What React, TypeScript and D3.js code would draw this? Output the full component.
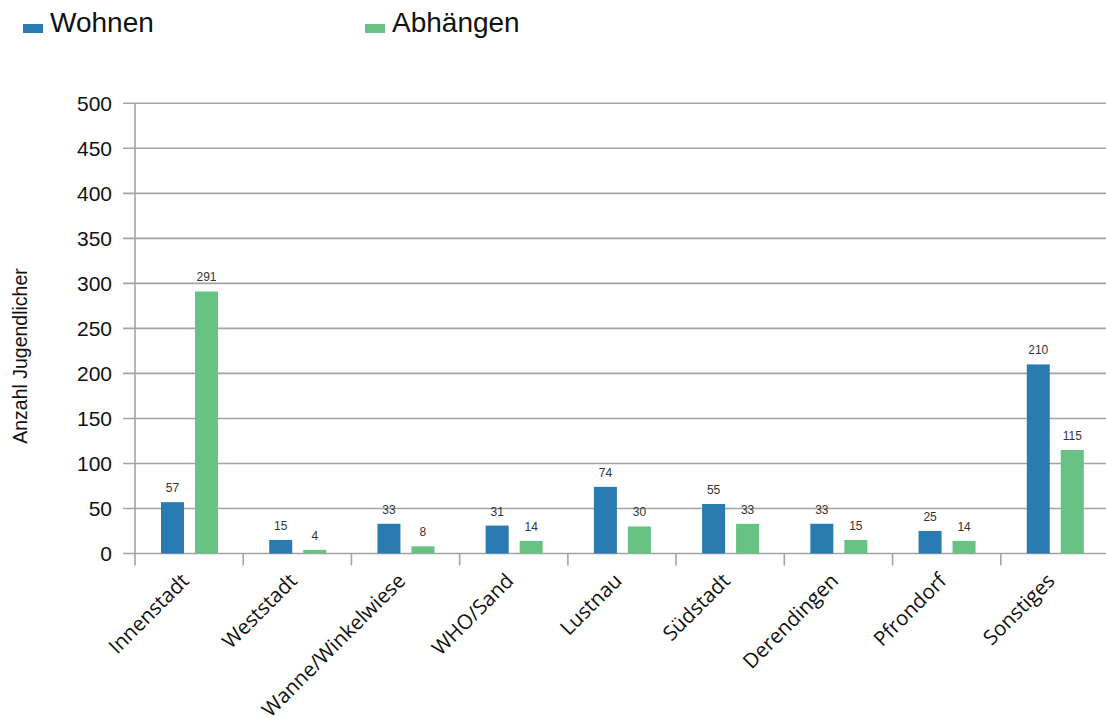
import React from "react";
import * as d3 from "d3";

const categories = ["Innenstadt", "Weststadt", "Wanne/Winkelwiese", "WHO/Sand", "Lustnau", "Südstadt", "Derendingen", "Pfrondorf", "Sonstiges"];
const seriesNames = ["Wohnen", "Abhängen"];
const wohnen = [57, 15, 33, 31, 74, 55, 33, 25, 210];
const abhaengen = [291, 4, 8, 14, 30, 33, 15, 14, 115];
const yTicks = [0, 50, 100, 150, 200, 250, 300, 350, 400, 450, 500];
const colors = ["#2a7bb2", "#67c283"];

export default function App() {
  const W = 1106, H = 717;
  const left = 135, right = 1109, top = 103.3, bottom = 553.5;
  const x = d3.scaleBand<string>().domain(categories).range([left, right]);
  const xs = d3.scaleBand<string>().domain(seriesNames).range([26, 83]).paddingInner(11 / 34);
  const y = d3.scaleLinear().domain([0, 500]).range([bottom, top]);
  const data = [wohnen, abhaengen];
  const grid = "#a3a3a3";
  return (
    <svg width={W} height={H} style={{ position: "absolute", left: 0, top: 0, background: "#fff" }}>
      {yTicks.map((t) => (
        <g key={t}>
          <line x1={123} x2={right} y1={y(t)} y2={y(t)} stroke={grid} strokeWidth={1.6} />
          <text x={112} y={y(t)} dy="0.35em" textAnchor="end" fontFamily="Liberation Sans, Arial" fontSize={21} fill="#111">{t}</text>
        </g>
      ))}
      <line x1={left} x2={left} y1={top} y2={bottom + 12} stroke={grid} strokeWidth={1.6} />
      {categories.map((c) => (
        <line key={"tk" + c} x1={x(c)! + x.bandwidth()} x2={x(c)! + x.bandwidth()} y1={bottom} y2={bottom + 12} stroke={grid} strokeWidth={1.6} />
      ))}
      {data.map((vals, si) =>
        vals.map((v, i) => {
          const bx = x(categories[i])! + xs(seriesNames[si])!;
          return (
            <g key={si + "-" + i}>
              <rect x={bx} y={y(v)} width={xs.bandwidth()} height={bottom - y(v)} fill={colors[si]} />
              <text x={bx + xs.bandwidth() / 2} y={y(v) - 10} textAnchor="middle" fontFamily="Liberation Sans, Arial" fontSize={12} fill="#333">{v}</text>
            </g>
          );
        })
      )}
      {categories.map((c) => {
        const cx = x(c)! + x.bandwidth() / 2;
        return (
          <text key={"xl" + c} transform={`translate(${cx - 4},${bottom + 23.5}) rotate(-45)`} textAnchor="end" fontFamily="Open Sans" fontSize={20.5} fill="#111" dy="0.35em">{c}</text>
        );
      })}
      <text transform={`translate(27,356) rotate(-90)`} textAnchor="middle" fontFamily="Liberation Sans, Arial" fontSize={19.5} fill="#111">Anzahl Jugendlicher</text>
      {seriesNames.map((s, i) => {
        const lx = i === 0 ? 23 : 365;
        return (
          <g key={"lg" + s}>
            <rect x={lx} y={24} width={20} height={9} fill={colors[i]} />
            <text x={lx + 27} y={32} fontFamily="Liberation Sans, Arial" fontSize={28} fill="#111">{s}</text>
          </g>
        );
      })}
    </svg>
  );
}
